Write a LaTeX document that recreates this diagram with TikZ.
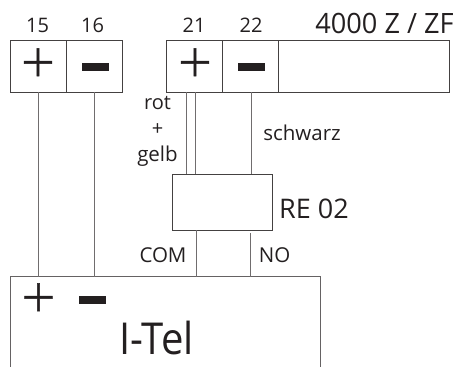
\documentclass[tikz,border=0pt]{standalone}
\usepackage{fontspec}
\setmainfont{Open Sans}
\newfontfamily\lightfont[FakeBold=0.8]{Open Sans Light}
\definecolor{ink}{HTML}{231F20}
\tikzset{
  x=1pt,y=-1pt,
  box/.style={draw=ink!85,line width=0.9pt,minimum width=#1,inner sep=0pt,outer sep=0pt},
  termbox/.style={box=#1,minimum height=51.5pt},
  wire/.style={draw=ink!65,line width=1pt},
  lbl/.style={inner sep=0pt,outer sep=0pt,text=ink},
  sym/.style={lbl,font=\fontsize{60}{60}\selectfont\lightfont},
  neg/.style={inner sep=0pt,outer sep=0pt,fill=ink,minimum width=27pt,minimum height=8pt}
}
\begin{document}
\begin{tikzpicture}
\useasboundingbox (0,0) rectangle (460,367);
% terminals
\node[termbox=56pt] (t15) at (38,66.3) {};
\node[termbox=56pt] (t16) at (94,66.3) {};
\node[termbox=55.5pt] (t21) at (194.3,66.3) {};
\node[termbox=56pt] (t22) at (250,66.3) {};
\node[termbox=171pt] (tblank) at (363.5,66.3) {};
% relay
\node[box=99.5pt,minimum height=56pt] (relay) at (222.2,202) {};
% I-Tel housing, open at the bottom
\coordinate (itelbl) at (10,366.5);
\coordinate (iteltl) at (10,276.7);
\coordinate (iteltr) at (320,276.7);
\coordinate (itelbr) at (320,366.5);
\draw[draw=ink!70,line width=0.9pt] (itelbl) -- (iteltl) -- (iteltr) -- (itelbr);
% connector points
\coordinate (w15a) at (38.7,92);  \coordinate (w15b) at (38.7,276.7);
\coordinate (w16a) at (94.5,92);  \coordinate (w16b) at (94.5,276.7);
\coordinate (w21a) at (186.3,92); \coordinate (w21b) at (186.3,174);
\coordinate (w21c) at (195,92);   \coordinate (w21d) at (195,174);
\coordinate (w22a) at (251.7,92); \coordinate (w22b) at (251.7,174);
\coordinate (wcoma) at (196,230); \coordinate (wcomb) at (196,276.7);
\coordinate (wnoa) at (250,233);  \coordinate (wnob) at (250,276.7);
\draw[wire] (w15a) -- (w15b);
\draw[wire] (w16a) -- (w16b);
\draw[wire] (w21a) -- (w21b);
\draw[wire] (w21c) -- (w21d);
\draw[wire] (w22a) -- (w22b);
\draw[wire] (wcoma) -- (wcomb);
\draw[wire] (wnoa) -- (wnob);
% symbols
\node[sym] (p15) at (38,66) {+};
\node[neg] (m16) at (95.5,67) {};
\node[sym] (p21) at (195,66) {+};
\node[neg] (m22) at (251.5,67) {};
\node[sym] (pi) at (38.5,301) {+};
\node[neg] (mi) at (92.5,300) {};
% labels
\node[lbl,font=\fontsize{20}{20}\selectfont] (n15) at (37.5,25.5) {15};
\node[lbl,font=\fontsize{20}{20}\selectfont] (n16) at (92.5,25.5) {16};
\node[lbl,font=\fontsize{20}{20}\selectfont] (n21) at (194,25.5) {21};
\node[lbl,font=\fontsize{20}{20}\selectfont] (n22) at (251,25.5) {22};
\node[lbl,font=\fontsize{28}{28}\selectfont] (title) at (384.5,23) {\scalebox{.97}[1]{4000 Z / ZF}};
\node[lbl,font=\fontsize{20}{20}\selectfont] (rot) at (157.5,103.5) {rot};
\node[lbl,font=\fontsize{20}{20}\selectfont] (plus) at (157.5,130) {+};
\node[lbl,font=\fontsize{20.5}{20.5}\selectfont] (gelb) at (157.5,156.5) {gelb};
\node[lbl,font=\fontsize{20.5}{20.5}\selectfont] (schwarz) at (302,132.5) {schwarz};
\node[lbl,font=\fontsize{27}{27}\selectfont] (re) at (314,209) {RE 02};
\node[lbl,font=\fontsize{20.5}{20.5}\selectfont] (com) at (163,255.5) {COM};
\node[lbl,font=\fontsize{20.5}{20.5}\selectfont] (no) at (274.5,255.5) {NO};
\node[lbl,font=\fontsize{44}{44}\selectfont] (itel) at (156.5,338) {\scalebox{.91}[1]{I-Tel}};
\end{tikzpicture}
\end{document}
